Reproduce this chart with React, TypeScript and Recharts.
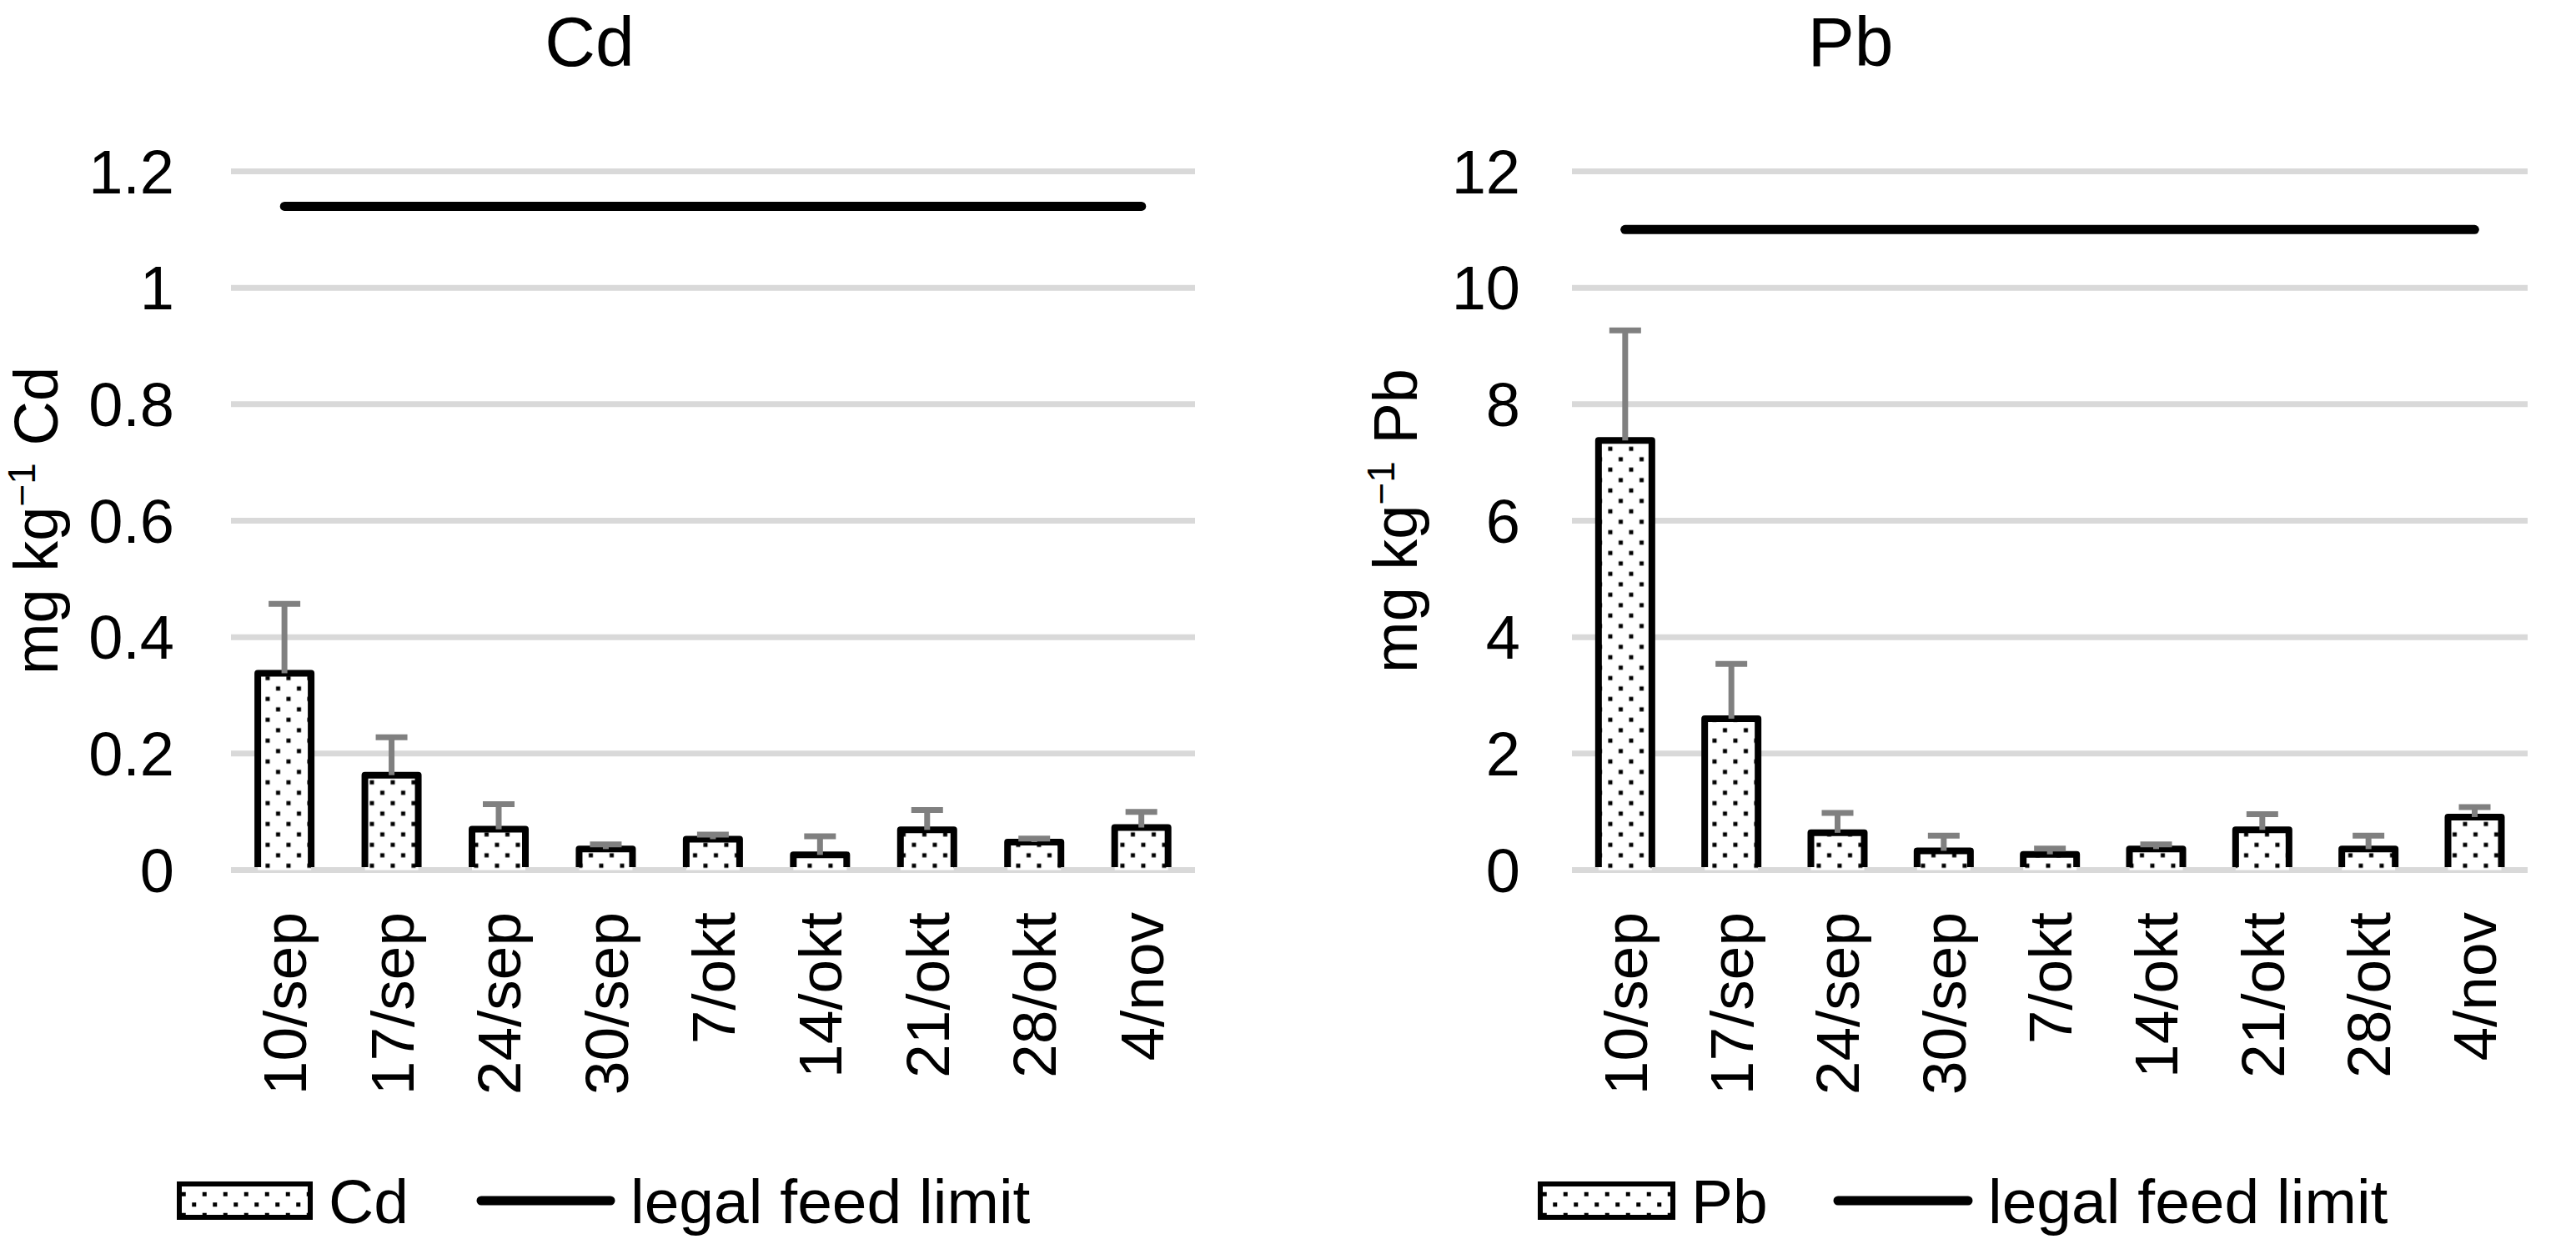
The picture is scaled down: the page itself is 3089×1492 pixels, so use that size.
import React from 'react';
import { ComposedChart, Bar, Line, XAxis, YAxis, CartesianGrid, Legend } from 'recharts';

const categories = ['10/sep', '17/sep', '24/sep', '30/sep', '7/okt', '14/okt', '21/okt', '28/okt', '4/nov'];
const cdMean = [0.338, 0.163, 0.070, 0.036, 0.053, 0.026, 0.069, 0.048, 0.073];
const cdErr = [0.119, 0.065, 0.043, 0.008, 0.008, 0.032, 0.034, 0.006, 0.027];
const cdLimit = [1.14, 1.14, 1.14, 1.14, 1.14, 1.14, 1.14, 1.14, 1.14];
const pbMean = [7.38, 2.60, 0.64, 0.33, 0.27, 0.36, 0.69, 0.36, 0.91];
const pbErr = [1.89, 0.94, 0.34, 0.26, 0.10, 0.08, 0.27, 0.23, 0.17];
const pbLimit = [11, 11, 11, 11, 11, 11, 11, 11, 11];
const cdTicks = [0, 0.2, 0.4, 0.6, 0.8, 1, 1.2];
const pbTicks = [0, 2, 4, 6, 8, 10, 12];

const FONT = '"Liberation Sans", Arial, Helvetica, sans-serif';
const GRID = '#d9d9d9';
const ERR = '#808080';

const buildData = (mean: number[], err: number[], limit: number[]) =>
  categories.map((c, i) => ({ cat: c, mean: mean[i], err: err[i], limit: limit[i] }));

const cdData = buildData(cdMean, cdErr, cdLimit);
const pbData = buildData(pbMean, pbErr, pbLimit);

const DotPattern = ({ id, px, py }: { id: string; px: number; py: number }) => (
  <pattern id={id} patternUnits="userSpaceOnUse" x={px} y={py} width={25} height={25}>
    <rect x={0} y={0} width={25} height={25} fill="#fff" />
    <rect x={3.75} y={3.75} width={5} height={5} fill="#000" />
    <rect x={16.25} y={16.25} width={5} height={5} fill="#000" />
  </pattern>
);

const makeBarShape = (patternId: string) => (props: any) => {
  const { x, y, width, height } = props;
  if (width == null || height == null) return <g />;
  const bottom = y + height - 3.5;
  return (
    <g>
      <rect x={x} y={y} width={width} height={height} fill={`url(#${patternId})`} />
      <path
        d={`M${x},${bottom} L${x},${y} L${x + width},${y} L${x + width},${bottom}`}
        stroke="#000"
        strokeWidth={8}
        fill="none"
        strokeLinejoin="round"
      />
    </g>
  );
};

const ErrShape = (props: any) => {
  const { x, y, width, height } = props;
  if (width == null || height == null) return <g />;
  const cx = x + width / 2;
  return (
    <g>
      <line x1={cx} y1={y + height} x2={cx} y2={y} stroke={ERR} strokeWidth={7} />
      <line x1={cx - 19} y1={y} x2={cx + 19} y2={y} stroke={ERR} strokeWidth={7} />
    </g>
  );
};

const XTick = (props: any) => {
  const { x, y, payload } = props;
  return (
    <g transform={`translate(${x},${y + 48.5})`}>
      <text transform="rotate(-90)" textAnchor="end" dy={26} fontSize={73} fontFamily={FONT} fill="#000">
        {payload.value}
      </text>
    </g>
  );
};

const makeYLabel = (element: string, baseX: number) => (props: any) => {
  const vb = props.viewBox || { x: 0, y: 0, width: 0, height: 0 };
  const cx = vb.x + baseX;
  const cy = vb.y + vb.height / 2;
  return (
    <text
      transform={`translate(${cx},${cy}) rotate(-90)`}
      textAnchor="middle"
      fontSize={74}
      fontFamily={FONT}
      fill="#000"
    >
      <tspan>mg kg</tspan>
      <tspan fontSize={46} dy={-27}>−1</tspan>
      <tspan dy={27}> {element}</tspan>
    </text>
  );
};

const makeLegend = (name: string, patternId: string, pos: { icon: number; iconW: number; name: number; l1: number; l2: number; text: number }) => () => (
  <svg width={1150} height={90} style={{ display: 'block', overflow: 'visible' }}>
    <defs>
      <DotPattern id={patternId} px={2} py={4} />
    </defs>
    <rect x={pos.icon + 3} y={23} width={pos.iconW - 6} height={40} fill={`url(#${patternId})`} stroke="#000" strokeWidth={6} />
    <text x={pos.name} y={70} fontSize={75} fontFamily={FONT} fill="#000">{name}</text>
    <line x1={pos.l1} y1={43} x2={pos.l2} y2={43} stroke="#000" strokeWidth={11} strokeLinecap="round" />
    <text x={pos.text} y={70} fontSize={75} fontFamily={FONT} fill="#000">legal feed limit</text>
  </svg>
);

type PanelProps = {
  data: any[];
  element: string;
  ticks: number[];
  max: number;
  width: number;
  yAxisWidth: number;
  marginRight: number;
  tickMargin: number;
  labelX: number;
  patternId: string;
  patternX: number;
  patternY: number;
  legendLeft: number;
  legendPos: { icon: number; iconW: number; name: number; l1: number; l2: number; text: number };
};

const Panel = (p: PanelProps) => (
  <ComposedChart
    width={p.width}
    height={1492}
    data={p.data}
    margin={{ top: 205.5, right: p.marginRight, bottom: 0, left: 0 }}
    barCategoryGap="25%"
  >
    <defs>
      <DotPattern id={p.patternId} px={p.patternX} py={p.patternY} />
    </defs>
    <CartesianGrid vertical={false} stroke={GRID} strokeWidth={7} />
    <XAxis
      dataKey="cat"
      interval={0}
      height={448.5}
      tickSize={0}
      tickLine={false}
      axisLine={false}
      tick={<XTick />}
    />
    <YAxis
      domain={[0, p.max]}
      ticks={p.ticks}
      interval={0}
      width={p.yAxisWidth}
      axisLine={false}
      tickLine={false}
      tickSize={0}
      tickMargin={p.tickMargin}
      tick={{ fontSize: 74, fill: '#000', fontFamily: FONT }}
      label={makeYLabel(p.element, p.labelX)}
    />
    <Bar dataKey="mean" stackId="s" isAnimationActive={false} shape={makeBarShape(p.patternId)} />
    <Bar dataKey="err" stackId="s" isAnimationActive={false} shape={ErrShape} />
    <Line
      dataKey="limit"
      type="linear"
      stroke="#000"
      strokeWidth={11}
      strokeLinecap="round"
      dot={false}
      activeDot={false}
      isAnimationActive={false}
    />
    <Legend
      layout="horizontal"
      verticalAlign="middle"
      align="center"
      wrapperStyle={{ position: 'absolute', left: p.legendLeft, top: 1397, width: 1150, height: 90 }}
      content={makeLegend(p.element, p.patternId + 'Leg', p.legendPos)}
    />
  </ComposedChart>
);

const Title = ({ text, cx }: { text: string; cx: number }) => (
  <div
    style={{
      position: 'absolute',
      left: cx - 200,
      top: 0,
      width: 400,
      textAlign: 'center',
      fontFamily: FONT,
      fontSize: 84,
      lineHeight: '100px',
      color: '#000',
    }}
  >
    {text}
  </div>
);

export default function App() {
  return (
    <div style={{ position: 'absolute', left: 0, top: 0, width: 3089, height: 1492, background: '#fff', overflow: 'hidden' }}>
      <div style={{ position: 'absolute', left: 0, top: 0 }}>
        <Panel
          data={cdData}
          element="Cd"
          ticks={cdTicks}
          max={1.2}
          width={1470}
          yAxisWidth={277}
          marginRight={37}
          tickMargin={68}
          labelX={69}
          patternId="dotsCd"
          patternX={2.25}
          patternY={-5.45}
          legendLeft={212}
          legendPos={{ icon: 0, iconW: 163, name: 182, l1: 365, l2: 520, text: 544 }}
        />
      </div>
      <div style={{ position: 'absolute', left: 1560, top: 0 }}>
        <Panel
          data={pbData}
          element="Pb"
          ticks={pbTicks}
          max={12}
          width={1529}
          yAxisWidth={325}
          marginRight={58}
          tickMargin={62}
          labelX={139}
          patternId="dotsPb"
          patternX={2.25}
          patternY={-5.45}
          legendLeft={1844 - 1560}
          legendPos={{ icon: 0, iconW: 165, name: 184, l1: 360, l2: 516, text: 540 }}
        />
      </div>
      <Title text="Cd" cx={707} />
      <Title text="Pb" cx={2219} />
    </div>
  );
}
